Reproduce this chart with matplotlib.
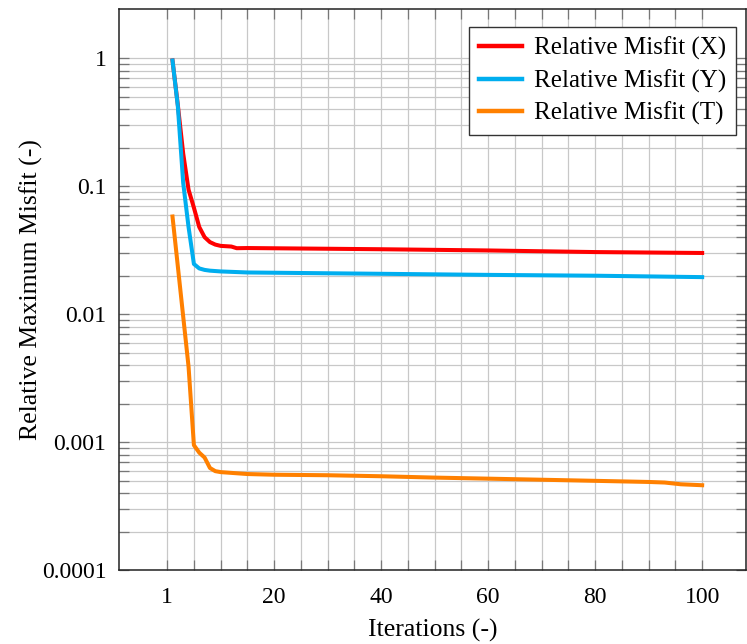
import matplotlib.pyplot as plt
from matplotlib.ticker import FixedLocator, NullFormatter

plt.rcParams['font.family'] = ['Liberation Serif', 'DejaVu Serif']

# misfit history (iteration, value)
iters_x = [1, 2, 3, 4, 5, 6, 7, 8, 9, 10, 12, 13, 15, 40, 60, 80, 100]
misfit_x = [0.96, 0.43, 0.18, 0.094, 0.068, 0.048, 0.040, 0.0366, 0.035, 0.0342,
            0.0338, 0.0328, 0.0329, 0.0322, 0.0315, 0.0306, 0.0301]

iters_y = [1, 2, 3, 4, 5, 6, 7, 8, 10, 15, 40, 60, 80, 100]
misfit_y = [0.96, 0.42, 0.106, 0.048, 0.0247, 0.0228, 0.0222, 0.0219, 0.0216,
            0.0212, 0.0207, 0.0203, 0.0200, 0.0195]

iters_t = [1, 2, 3, 4, 5, 6, 7, 8, 9, 10, 15, 20, 30, 40, 50, 60, 70, 80, 90, 93, 96, 100]
misfit_t = [0.058, 0.0236, 0.0096, 0.0039, 0.00095, 0.00083, 0.00076, 0.00063, 0.000595,
            0.000585, 0.000565, 0.000558, 0.000553, 0.000543, 0.000530, 0.000520,
            0.000510, 0.000500, 0.000490, 0.000485, 0.000470, 0.000462]

xtick_pos = [0, 20, 40, 60, 80, 100]
xtick_labels = ['1', '20', '40', '60', '80', '100']
ytick_pos = [1e-4, 1e-3, 1e-2, 1e-1, 1]
ytick_labels = ['0.0001', '0.001', '0.01', '0.1', '1']

fig = plt.figure(figsize=(7.47, 6.44), dpi=100)
ax = fig.add_axes([0.1593, 0.1144, 0.8394, 0.8712])

ax.plot(iters_x, misfit_x, color='#ff0000', lw=2.9, label='Relative Misfit (X)', solid_joinstyle='round')
ax.plot(iters_y, misfit_y, color='#00aeef', lw=2.9, label='Relative Misfit (Y)', solid_joinstyle='round')
ax.plot(iters_t, misfit_t, color='#ff8000', lw=2.9, label='Relative Misfit (T)', solid_joinstyle='round')

ax.set_yscale('log')
ax.set_xlim(-9, 108.2)
ax.set_ylim(1e-4, 2.41)

ax.xaxis.set_major_locator(FixedLocator(xtick_pos))
ax.set_xticklabels(xtick_labels)
ax.xaxis.set_minor_locator(FixedLocator([v for v in range(5, 100, 5) if v % 20]))
ax.yaxis.set_major_locator(FixedLocator(ytick_pos))
ax.set_yticklabels(ytick_labels)
ax.yaxis.set_minor_locator(FixedLocator([m * 10.0 ** e for e in range(-4, 0) for m in range(2, 10)]))
ax.yaxis.set_minor_formatter(NullFormatter())

ax.grid(True, which='both', color='#c8c8c8', lw=0.9)
ax.set_axisbelow(True)
ax.tick_params(which='both', direction='in', top=True, right=True, color='#777777',
               labelsize=17)
ax.tick_params(which='major', length=7, width=0.9)
ax.tick_params(which='minor', length=7, width=0.9)
ax.tick_params(axis='x', pad=12)
ax.tick_params(axis='y', pad=9)
for s in ax.spines.values():
    s.set_linewidth(1.1)
    s.set_color('#222222')

ax.set_xlabel('Iterations (-)', fontsize=18.5, labelpad=8)
ax.set_ylabel('Relative Maximum Misfit (-)', fontsize=18.5, labelpad=-0.5)

leg = ax.legend(loc='upper right', fontsize=18, fancybox=False, framealpha=1,
                edgecolor='#333333', handlelength=1.75, borderpad=0.4,
                labelspacing=0.36, handletextpad=0.45, borderaxespad=0,
                bbox_to_anchor=(0.984, 0.9685))
leg.get_frame().set_linewidth(1.0)
for h in leg.get_lines():
    h.set_linewidth(3.2)

fig.savefig('out.png', dpi=100)
